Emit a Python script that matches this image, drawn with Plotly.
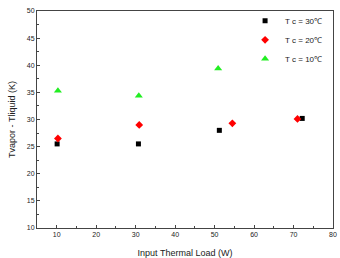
import plotly.graph_objects as go

x30 = [10.1, 30.7, 51.2, 72.2]
y30 = [25.5, 25.5, 28.0, 30.2]
x20 = [10.3, 30.9, 54.5, 71.0]
y20 = [26.5, 29.0, 29.3, 30.1]
x10 = [10.3, 30.8, 50.9]
y10 = [35.3, 34.4, 39.4]

names = ["T c = 30\u2103", "T c = 20\u2103", "T c = 10\u2103"]

fig = go.Figure()
fig.add_trace(go.Scatter(x=x30, y=y30, mode="markers", name=names[0],
                         marker=dict(symbol="square", size=5, color="black")))
fig.add_trace(go.Scatter(x=x20, y=y20, mode="markers", name=names[1],
                         marker=dict(symbol="diamond", size=6, color="red")))
fig.add_trace(go.Scatter(x=x10, y=y10, mode="markers", name=names[2],
                         marker=dict(symbol="triangle-up", size=7, color="#22ee22")))

axis_common = dict(showgrid=False, zeroline=False, showline=True, linecolor="#444",
                   linewidth=1, mirror=True, ticks="inside", ticklen=3, tickcolor="#444",
                   tickfont=dict(size=7, color="#222"), automargin=False)
fig.update_xaxes(range=[5, 80], dtick=10, tick0=0,
                 minor=dict(ticks="inside", ticklen=2, dtick=5, tickcolor="#444"),
                 title=dict(text="Input Thermal Load (W)", font=dict(size=9, color="#222"), standoff=13),
                 **axis_common)
fig.update_yaxes(range=[10, 50], dtick=5,
                 minor=dict(ticks="inside", ticklen=2, dtick=2.5, tickcolor="#444"),
                 title=dict(text="Tvapor - Tliquid (K)", font=dict(size=9, color="#222"), standoff=9),
                 **axis_common)

fig.update_layout(
    width=340, height=258,
    margin=dict(l=37, r=7, t=10, b=30),
    paper_bgcolor="white", plot_bgcolor="white",
    font=dict(family="Liberation Sans, Arial, sans-serif"),
    legend=dict(x=0.98, y=1.017, xanchor="right", yanchor="top",
                bgcolor="rgba(0,0,0,0)", font=dict(size=8, color="#222"),
                itemwidth=30, tracegroupgap=0),
)
fig.write_html("out.html")
